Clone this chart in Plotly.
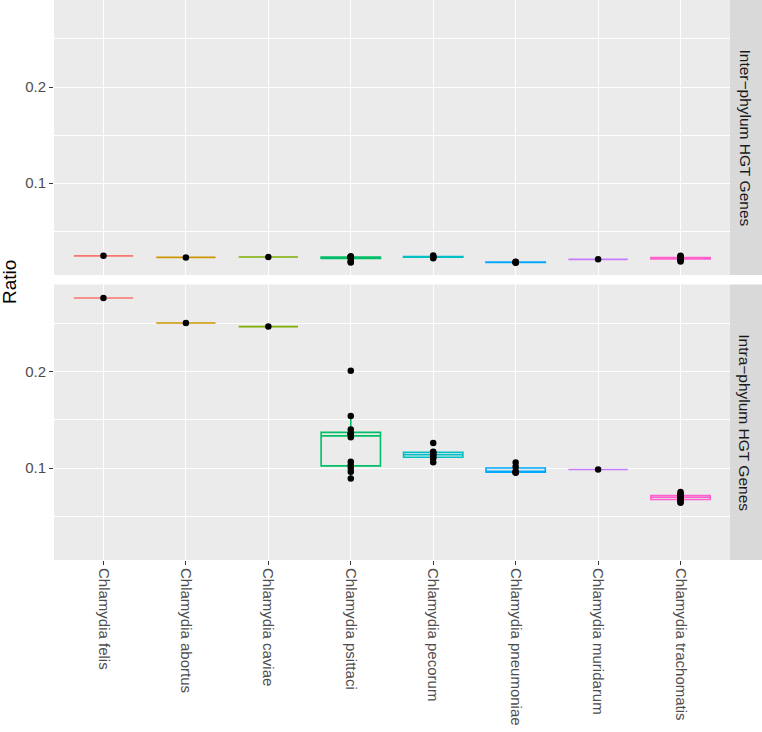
import numpy as np
import plotly.graph_objects as go

species = ["Chlamydia felis", "Chlamydia abortus", "Chlamydia caviae", "Chlamydia psittaci",
           "Chlamydia pecorum", "Chlamydia pneumoniae", "Chlamydia muridarum", "Chlamydia trachomatis"]
colors = ["#F8766D", "#CD9600", "#7CAE00", "#00BE67", "#00BFC4", "#00A9FF", "#C77CFF", "#FF61CC"]
facets = ["Inter\u2212phylum HGT Genes", "Intra\u2212phylum HGT Genes"]

inter_felis = [0.0244]
inter_abortus = [0.0228]
inter_caviae = [0.0232]
inter_psittaci = [0.0240, 0.0235, 0.0233, 0.0231, 0.0230, 0.0229, 0.0228, 0.0227, 0.0226, 0.0190, 0.0180, 0.0176]
inter_pecorum = [0.0248, 0.0236, 0.0234, 0.0231, 0.0218]
inter_pneumoniae = [0.0184, 0.0179, 0.0176, 0.0172]
inter_muridarum = [0.0208]
inter_trachomatis = [0.0245, 0.0238, 0.0230, 0.0226, 0.0222, 0.0220, 0.0218, 0.0216, 0.0214, 0.0205, 0.0195, 0.0186]

intra_felis = [0.2765]
intra_abortus = [0.2505]
intra_caviae = [0.2468]
intra_psittaci = [0.0890, 0.0960, 0.1000, 0.1030, 0.1065, 0.1320, 0.1348, 0.1355, 0.1360, 0.1400, 0.1540, 0.2010]
intra_pecorum = [0.1060, 0.1100, 0.1115, 0.1135, 0.1140, 0.1160, 0.1170, 0.1260]
intra_pneumoniae = [0.0952, 0.0955, 0.0958, 0.0965, 0.1012, 0.1058]
intra_muridarum = [0.0985]
intra_trachomatis = [0.0640, 0.0650, 0.0665, 0.0675, 0.0685, 0.0692, 0.0700, 0.0705, 0.0712, 0.0720, 0.0735, 0.0750]

inter_data = [inter_felis, inter_abortus, inter_caviae, inter_psittaci,
              inter_pecorum, inter_pneumoniae, inter_muridarum, inter_trachomatis]
intra_data = [intra_felis, intra_abortus, intra_caviae, intra_psittaci,
              intra_pecorum, intra_pneumoniae, intra_muridarum, intra_trachomatis]

y_ticks = [0.1, 0.2]
y_range = [0.0045, 0.2905]

W, H = 762, 732
px_left, px_right = 54, 730
strip_left, strip_right = 730, 762
top_panel = (0, 275)
bot_panel = (284.5, 560)


def ydom(p):
    return [1 - p[1] / H, 1 - p[0] / H]


def stats(v):
    a = np.asarray(v, dtype=float)
    q1, med, q3 = np.percentile(a, [25, 50, 75])
    iqr = q3 - q1
    lo = a[a >= q1 - 1.5 * iqr].min()
    hi = a[a <= q3 + 1.5 * iqr].max()
    return q1, med, q3, lo, hi


fig = go.Figure()
FONT = "Liberation Sans, Arial, sans-serif"

for row, data in enumerate([inter_data, intra_data]):
    xa = "x" if row == 0 else "x2"
    ya = "y" if row == 0 else "y2"
    for sp, col, vals in zip(species, colors, data):
        q1, med, q3, lo, hi = stats(vals)
        fig.add_trace(go.Box(
            x=[sp], q1=[q1], median=[med], q3=[q3], lowerfence=[lo], upperfence=[hi],
            xaxis=xa, yaxis=ya, line=dict(color=col, width=1.6),
            fillcolor="rgba(0,0,0,0)", whiskerwidth=0, width=0.72,
            boxpoints=False, showlegend=False, hoverinfo="skip"))
    for sp, vals in zip(species, data):
        fig.add_trace(go.Scatter(
            x=[sp] * len(vals), y=vals, mode="markers", xaxis=xa, yaxis=ya,
            marker=dict(color="black", size=6.5, line=dict(width=0)),
            showlegend=False, hoverinfo="skip"))

xcommon = dict(
    domain=[px_left / W, px_right / W], range=[-0.6, 7.6],
    categoryorder="array", categoryarray=species, type="category",
    showgrid=True, gridcolor="white", gridwidth=1.3, zeroline=False,
    showline=False, automargin=False)
ycommon = dict(
    range=y_range, tickvals=y_ticks, ticktext=["0.1", "0.2"],
    showgrid=True, gridcolor="white", gridwidth=1.3, zeroline=False,
    ticks="outside", ticklen=4, tickcolor="#333333", tickwidth=1.2,
    tickfont=dict(family=FONT, size=15, color="#4D4D4D"),
    minor=dict(tickvals=[0.05, 0.15, 0.25], showgrid=True, gridcolor="white",
               gridwidth=0.65, ticks=""),
    automargin=False, showline=False)

fig.update_layout(
    width=W, height=H, margin=dict(l=0, r=0, t=0, b=0),
    paper_bgcolor="white", plot_bgcolor="#EBEBEB", boxmode="overlay",
    xaxis=dict(**xcommon, anchor="y", showticklabels=False, ticks=""),
    yaxis=dict(**ycommon, domain=ydom(top_panel), anchor="x"),
    xaxis2=dict(**xcommon, anchor="y2", showticklabels=True, ticks="outside",
                ticklen=4, tickcolor="#333333", tickwidth=1.2, tickangle=90,
                tickfont=dict(family=FONT, size=15, color="#4D4D4D")),
    yaxis2=dict(**ycommon, domain=ydom(bot_panel), anchor="x2"),
    font=dict(family=FONT),
    hovermode=False,
)

for p, label in zip([top_panel, bot_panel], facets):
    d = ydom(p)
    fig.add_shape(type="rect", xref="paper", yref="paper", x0=strip_left / W, x1=strip_right / W,
                  y0=d[0], y1=d[1], fillcolor="#D9D9D9", line=dict(width=0), layer="below")
    fig.add_annotation(x=745 / W, y=(d[0] + d[1]) / 2, xref="paper", yref="paper",
                       xanchor="center", yanchor="middle",
                       text=label, textangle=90, showarrow=False,
                       font=dict(family=FONT, size=15.5, color="#1A1A1A"))

fig.add_annotation(x=9 / W, y=1 - 282 / H, xref="paper", yref="paper", text="Ratio",
                   xanchor="center", yanchor="middle",
                   textangle=-90, showarrow=False, font=dict(family=FONT, size=19, color="black"))

fig.write_html("out.html", config={"displayModeBar": False},
               post_script="document.body.style.margin='0';document.body.style.overflow='hidden';")
